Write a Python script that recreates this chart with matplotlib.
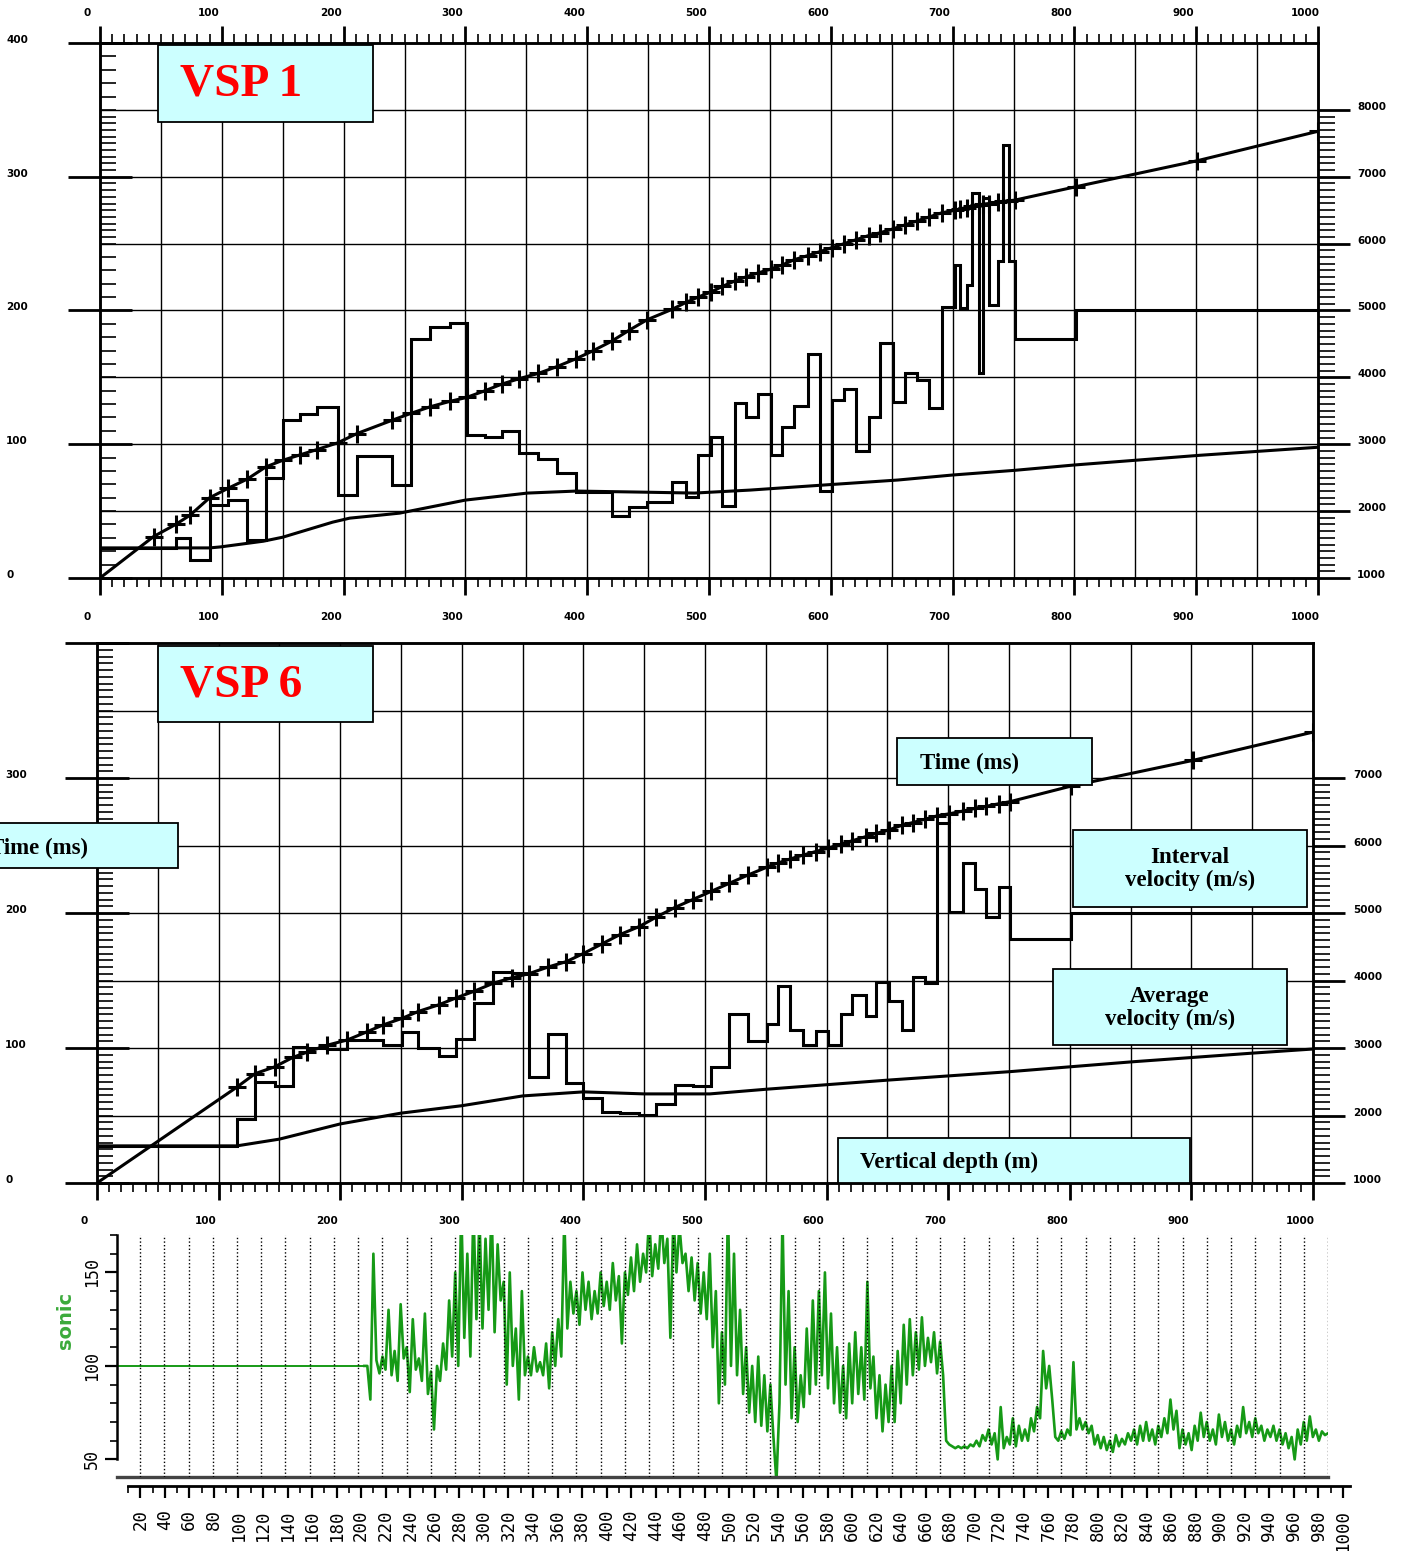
import numpy as np
import matplotlib
matplotlib.use('Agg')
import matplotlib.pyplot as plt
from matplotlib.patches import Rectangle

W, H = 1404, 1551
DPI = 100
PT = 72 / DPI   # pixels -> points

# ---------------- VSP 1 : levels (m), first-break times (ms), interval velocities (m/s)
vsp1_levels = [0, 44, 62, 74, 90, 105, 121, 136, 150, 164,
               178, 195, 211, 240, 255, 271, 287, 301, 316, 330,
               344, 360, 375, 391, 405, 420, 434, 449, 470, 481,
               491, 502, 511, 521, 530, 540, 551, 560, 570, 581,
               591, 601, 611, 621, 631, 640, 651, 661, 671, 681,
               691, 702, 706, 712, 716, 722, 725, 730, 737, 741,
               746, 751, 801, 901, 1000]
vsp1_time = [0, 31, 40, 47, 60, 67, 74, 83, 88, 92,
             96, 101, 108, 118, 123, 128, 132, 135, 140, 145,
             149, 153, 158, 164, 170, 177, 185, 193, 201, 206,
             210, 214, 218, 222, 225, 228, 231, 234, 238, 241,
             244, 247, 250, 253, 256, 258, 261, 264, 267, 270,
             273, 275, 276, 277, 278, 279, 279.5, 280, 281, 281.5,
             282, 282.5, 292.5, 312, 334]
vsp1_vint = [1450, 1450, 1600, 1270, 2090, 2165, 1570, 2490, 3360, 3450,
             3550, 2240, 2820, 2390, 4570, 4750, 4810, 3135, 3105, 3195,
             2865, 2775, 2570, 2285, 2285, 1925, 2060, 2135, 2435, 2210,
             2835, 3105, 2075, 3615, 3405, 3745, 2835, 3255, 3570, 4345,
             2300, 3655, 3820, 2895, 3405, 4510, 3630, 4060, 3955, 3540,
             5045, 5675, 5030, 5375, 6750, 4060, 6675, 5075, 5735, 7480,
             5735, 4580, 5000, 5000]
vsp1_avg_depth = [0, 90, 99, 134, 150, 191, 205, 230, 246, 300, 351,
                  391, 442, 488, 534, 594, 655, 700, 751, 800, 903, 1000]
vsp1_avg_vel = [1450, 1450, 1465, 1550, 1610, 1835, 1895, 1940, 1970, 2165, 2270,
                2300, 2285, 2270, 2315, 2390, 2465, 2540, 2610, 2690, 2835, 2955]

# ---------------- VSP 6
vsp6_levels = [0, 115, 130, 146, 161, 173, 189, 206, 222, 235,
               251, 264, 281, 295, 310, 326, 341, 355, 371, 386,
               400, 415, 430, 446, 460, 475, 490, 505, 520, 535,
               551, 560, 570, 581, 591, 601, 612, 621, 632, 641,
               651, 662, 671, 681, 691, 701, 712, 722, 731, 742,
               751, 801, 901, 1000]
vsp6_time = [0, 71, 81, 86, 93, 97, 102, 106, 112, 117,
             122, 127, 132, 137, 142, 148, 152, 155, 160, 164,
             170, 177, 184, 190, 197, 204, 210, 216, 222, 228,
             234, 237, 240, 243, 245.5, 248, 251, 253.5, 256.5, 259,
             261.5, 265, 267, 269.5, 272, 273.5, 275.5, 277.5, 279, 281,
             282.5, 294, 313, 334]
vsp6_vint = [1550, 1950, 2490, 2440, 3015, 3000, 2990, 3120, 3120, 3045,
             3240, 3000, 2880, 3135, 3670, 4130, 4110, 2575, 3205, 2480,
             2260, 2055, 2040, 2005, 2170, 2450, 2430, 2720, 3505, 3110,
             3355, 3920, 3265, 3045, 3255, 3045, 3505, 3785, 3475, 3980,
             3695, 3265, 4050, 3965, 6335, 5020, 5745, 5355, 4945, 5390,
             4615, 5000, 5000]
vsp6_avg_depth = [0, 115, 150, 200, 250, 300, 350, 400, 450, 504,
                  551, 651, 751, 851, 951, 1000]
vsp6_avg_vel = [1550, 1550, 1650, 1875, 2035, 2145, 2290, 2350, 2320, 2320,
                2390, 2525, 2650, 2795, 2925, 2985]

# ---------------- sonic log: constant 100 down to 205 m, then sampled every 2.5 m
sonic_flat_depth = [2, 205]
sonic_flat_val = [100, 100]
sonic_start, sonic_step = 205, 2.5
sonic_val = [100, 100,
             82, 160, 103, 96, 105, 98, 130, 95,
             108, 92, 133, 104, 110, 86, 125, 98,
             104, 92, 128, 85, 97, 66, 100, 92,
             112, 98, 135, 105, 150, 100, 185, 115,
             160, 105, 185, 125, 180, 120, 168, 130,
             185, 118, 165, 135, 145, 90, 150, 100,
             120, 82, 140, 95, 105, 95, 110, 97,
             102, 95, 112, 88, 118, 100, 125, 105,
             180, 120, 145, 128, 140, 122, 150, 130,
             145, 125, 140, 128, 150, 132, 145, 130,
             155, 135, 148, 112, 150, 138, 158, 140,
             165, 145, 160, 150, 180, 148, 165, 152,
             180, 155, 168, 115, 180, 150, 175, 155,
             160, 140, 158, 135, 155, 128, 150, 125,
             160, 110, 140, 80, 118, 90, 185, 100,
             160, 95, 130, 85, 110, 75, 100, 70,
             105, 68, 95, 65, 90, 62, 38, 80,
             180, 90, 140, 72, 110, 70, 95, 78,
             120, 85, 135, 90, 140, 95, 150, 88,
             128, 80, 110, 75, 100, 72, 112, 80,
             118, 85, 110, 82, 145, 88, 105, 72,
             95, 65, 90, 70, 100, 70, 108, 80,
             122, 90, 125, 95, 118, 98, 126, 100,
             115, 102, 118, 96, 113, 95, 60, 58,
             57, 56, 57, 56, 57, 56, 58, 57,
             60, 57, 63, 60, 66, 58, 64, 50,
             78, 56, 62, 58, 72, 57, 68, 60,
             66, 60, 72, 65, 78, 72, 108, 88,
             100, 82, 62, 60, 65, 61, 66, 63,
             102, 66, 72, 66, 70, 64, 68, 58,
             63, 56, 62, 55, 60, 54, 63, 57,
             61, 58, 64, 60, 66, 58, 68, 60,
             70, 60, 66, 58, 68, 62, 72, 64,
             82, 66, 76, 56, 66, 58, 64, 55,
             68, 60, 75, 62, 70, 60, 66, 58,
             74, 62, 70, 60, 66, 58, 68, 62,
             78, 64, 70, 62, 72, 64, 68, 60,
             66, 62, 68, 60, 66, 58, 64, 56,
             62, 50, 66, 58, 70, 60, 73, 62,
             66, 60, 65, 63, 64]
sonic_depth = sonic_start + sonic_step * np.arange(len(sonic_val))

depth_ticks = list(range(0, 1001, 100))
time_ticks = [0, 100, 200, 300, 400]
# minor time ticks: VSP 1 is finer between 250 and 350 ms, VSP 6 is fine throughout
vsp1_minor = sorted(set(range(0, 401, 10)) | set(range(250, 351, 5)))
vsp6_minor = list(range(0, 401, 5))
GREEN = '#169a16'
BOX = '#ccffff'

fig = plt.figure(figsize=(W / DPI, H / DPI), dpi=DPI)
fig.patch.set_facecolor('white')


def px_rect(x0, y0, x1, y1):
    return [x0 / W, 1 - y1 / H, (x1 - x0) / W, (y1 - y0) / H]


def label_box(x0, y0, x1, y1, text, tx, ty, ha='left', color='k', size=16.5):
    fig.add_artist(Rectangle((x0 / W, 1 - y1 / H), (x1 - x0) / W, (y1 - y0) / H,
                             transform=fig.transFigure, fc=BOX, ec='k', lw=1.3,
                             zorder=5))
    fig.text(tx / W, 1 - ty / H, text, ha=ha, va='center', color=color,
             fontsize=size, fontweight='bold', family='Liberation Serif',
             zorder=6, linespacing=1.15)


def vsp_panel(box, levels, times, vint, avg_d, avg_v, vel_ticks, time_lab,
              time_minor, top_ruler, lab_y, left_x, right_x):
    x0, y0, x1, y1 = box
    ax = fig.add_axes(px_rect(x0, y0, x1, y1))
    ax.set_xlim(0, 1000)
    ax.set_ylim(0, 400)
    ax.patch.set_alpha(0)
    for d in range(50, 1000, 50):
        ax.axvline(d, color='k', lw=1.0, zorder=1)
    for t in range(50, 400, 50):
        ax.axhline(t, color='k', lw=1.0, zorder=1)

    # time-depth curve with a tick at each recorded level
    ax.plot(levels, times, color='k', lw=2.2, zorder=4)
    ax.plot(levels[1:], times[1:], ls='none', marker='+', ms=13, mew=2.2,
            color='k', zorder=4)

    ax2 = ax.twinx()
    ax2.set_ylim(1000, 9000)
    ax2.stairs(vint, levels, baseline=None, color='k', lw=2.2, zorder=4)
    ax2.plot(avg_d, avg_v, color='k', lw=2.2, zorder=4)

    for a in (ax, ax2):
        for s in a.spines.values():
            s.set_linewidth(1.8)

    # depth ruler(s)
    ax.set_xticks(depth_ticks)
    ax.set_xticks(range(0, 1001, 10), minor=True)
    ax.tick_params(axis='x', which='major', direction='out', length=17 * PT, width=2.0,
                   top=top_ruler, bottom=True, labelbottom=False, labeltop=False)
    ax.tick_params(axis='x', which='minor', direction='out', length=9 * PT, width=1.2,
                   top=top_ruler, bottom=True)
    for d in depth_ticks:
        ax.annotate(str(d), xy=(d, 0), xycoords=('data', 'axes fraction'),
                    xytext=(-13 * PT, -lab_y * PT), textcoords='offset points',
                    ha='center', va='center', fontsize=7.5, fontweight='bold')
        if top_ruler:
            ax.annotate(str(d), xy=(d, 1), xycoords=('data', 'axes fraction'),
                        xytext=(-13 * PT, 30 * PT), textcoords='offset points',
                        ha='center', va='center', fontsize=7.5, fontweight='bold')

    # time scale on the left
    ax.set_yticks(time_ticks)
    ax.set_yticks(time_minor, minor=True)
    ax.tick_params(axis='y', which='major', direction='inout', length=64 * PT,
                   width=2.0, labelleft=False)
    ax.tick_params(axis='y', which='minor', direction='in', length=16 * PT, width=1.2)
    for t in time_lab:
        ax.annotate(str(t), xy=(left_x / W, t), xycoords=('figure fraction', 'data'),
                    xytext=(0, 3 * PT), textcoords='offset points',
                    ha='left', va='center', fontsize=7.5, fontweight='bold')

    # velocity scale on the right
    ax2.set_yticks(vel_ticks)
    ax2.set_yticks(range(vel_ticks[0], vel_ticks[-1] + 1, 100), minor=True)
    ax2.tick_params(axis='y', which='major', direction='out', length=32 * PT,
                    width=2.0, labelright=False)
    ax2.tick_params(axis='y', which='minor', direction='out', length=17 * PT, width=1.2)
    for v in vel_ticks:
        ax2.annotate(str(v), xy=(right_x / W, v), xycoords=('figure fraction', 'data'),
                     xytext=(0, 3 * PT), textcoords='offset points',
                     ha='left', va='center', fontsize=7.5, fontweight='bold')
    return ax, ax2


vsp_panel((100, 43, 1318, 578), vsp1_levels, vsp1_time, vsp1_vint,
          vsp1_avg_depth, vsp1_avg_vel, list(range(1000, 8001, 1000)),
          time_ticks, vsp1_minor, True, 39, 6, 1357)
vsp_panel((97, 643, 1313, 1183), vsp6_levels, vsp6_time, vsp6_vint,
          vsp6_avg_depth, vsp6_avg_vel, list(range(1000, 7001, 1000)),
          time_ticks[:-1], vsp6_minor, False, 38, 5, 1353)

# captions
label_box(158, 45, 373, 122, 'VSP 1', 180, 84, color='#ff0000', size=34)
label_box(158, 646, 373, 722, 'VSP 6', 180, 686, color='#ff0000', size=34)
label_box(-5, 823, 178, 868, 'Time (ms)', -11, 848)
label_box(897, 738, 1092, 785, 'Time (ms)', 920, 763)
label_box(1073, 830, 1307, 907, 'Interval\nvelocity (m/s)', 1190, 869, ha='center')
label_box(1053, 969, 1287, 1045, 'Average\nvelocity (m/s)', 1170, 1008, ha='center')
label_box(838, 1138, 1190, 1183, 'Vertical depth (m)', 860, 1162)

# ---------------- sonic log panel
axs = fig.add_axes(px_rect(117, 1235, 1328, 1477))
axs.set_xlim(1, 1000)
axs.set_ylim(40.6, 170)
axs.patch.set_alpha(0)
axs.plot(sonic_flat_depth, sonic_flat_val, color=GREEN, lw=1.4, zorder=2)
axs.plot(sonic_depth, sonic_val, color=GREEN, lw=1.9, zorder=2)
for d in range(20, 1001, 20):
    axs.axvline(d, color='k', lw=1.0, ls=(0, (1, 1.6)), zorder=3)
axs.spines['top'].set_visible(False)
axs.spines['right'].set_visible(False)
axs.spines['left'].set_bounds(50, 170)
axs.spines['left'].set_linewidth(1.8)
axs.spines['bottom'].set_linewidth(2.4)
axs.spines['bottom'].set_color('#444444')
axs.set_xticks([])
axs.set_yticks([50, 100, 150])
axs.set_yticks(range(50, 171, 10), minor=True)
axs.tick_params(axis='y', which='major', length=12 * PT, width=1.6, labelsize=12,
                labelrotation=90, pad=3, labelfontfamily='DejaVu Sans Mono')
axs.tick_params(axis='y', which='minor', length=7 * PT, width=1.2)
for lab in axs.get_yticklabels():
    lab.set_va('center')
fig.text(65 / W, 1 - 1320 / H, 'sonic', rotation=90, ha='center', va='center',
         color='#3aaa3a', fontsize=14, fontweight='bold')

# depth ruler under the log
axr = fig.add_axes(px_rect(128, 1480, 1350, 1486))
axr.set_xlim(11.07, 1005.7)
axr.patch.set_alpha(0)
axr.set_yticks([])
for s in ('top', 'left', 'right'):
    axr.spines[s].set_visible(False)
axr.spines['bottom'].set_linewidth(2)
axr.set_xticks(range(20, 1001, 20))
axr.set_xticks(range(10, 1001, 10), minor=True)
axr.tick_params(axis='x', which='major', length=12 * PT, width=1.6, labelsize=12.5,
                labelrotation=90, pad=8, labelfontfamily='DejaVu Sans Mono')
axr.tick_params(axis='x', which='minor', length=7 * PT, width=1.2)

fig.savefig('out.png', dpi=DPI, facecolor='white')
